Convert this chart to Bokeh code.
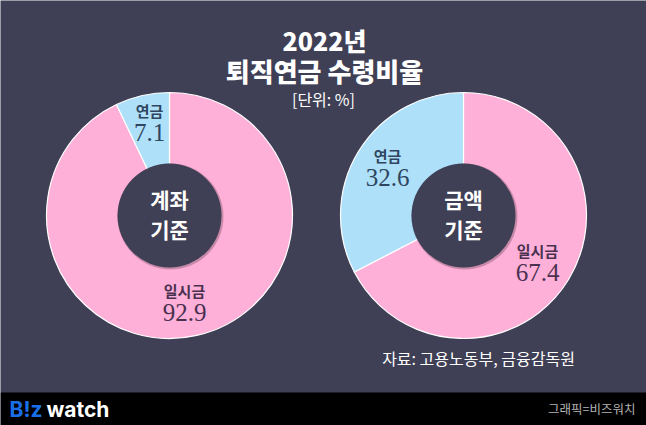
import numpy as np
from bokeh.plotting import figure
from bokeh.core.properties import value
from bokeh.embed import file_html
from bokeh.resources import INLINE

chart_names = ["계좌", "금액"]
chart_suffix = "기준"
lump_values = [92.9, 67.4]
pension_values = [7.1, 32.6]
lump_label = "일시금"
pension_label = "연금"
title_year = "2022년"
title_main = "퇴직연금 수령비율"
unit_text = "[단위: %]"
source_text = "자료: 고용노동부, 금융감독원"
credit_text = "그래픽=비즈워치"

BG = "#3f3f55"
PINK = "#ffb0d8"
BLUE = "#aee0f9"
KR = "Noto Sans CJK KR"
KR_BLACK = "Noto Sans CJK KR Black"
SERIF = "Liberation Serif"

# Data space equals reference pixels: x as is, y measured up from the bottom of the page
p = figure(width=646, height=425, x_range=(0, 646), y_range=(0, 425),
           output_backend="svg", toolbar_location=None, min_border=0,
           background_fill_color=BG, border_fill_color=BG, outline_line_color=None)
p.axis.visible = False
p.grid.visible = False

def Y(v):
    return 425 - v

def txt(x, y, s, size, color, font=KR, style="normal", align="center"):
    p.text([x], [Y(y)], text=[s], text_font=value(font), text_font_size=f"{size}px",
           text_font_style=style, text_color=color, text_align=align,
           text_baseline="middle")

p.quad(left=[0], right=[646], bottom=[0], top=[Y(392)], fill_color="#000000", line_color=None)

centers = [169, 463]
R_OUT, R_HOLE = 123, 52
for cx, name, lump, pen in zip(centers, chart_names, lump_values, pension_values):
    vals = np.array([lump, pen])
    edges = np.pi / 2 - 2 * np.pi * np.concatenate([[0], np.cumsum(vals) / vals.sum()])
    p.wedge(x=[cx, cx], y=[Y(215)] * 2, radius=R_OUT, start_angle=edges[:-1], end_angle=edges[1:],
            direction="clock", fill_color=[PINK, BLUE], line_color="#ffffff", line_width=1.2)
    p.circle(x=[cx + 1], y=[Y(216)], radius=R_HOLE + 1, fill_color="#000000", fill_alpha=0.22, line_color=None)
    p.circle(x=[cx], y=[Y(215)], radius=R_HOLE, fill_color=BG, line_color=None)
    txt(cx, 198, name, 21, "#ffffff", style="bold")
    txt(cx, 228, chart_suffix, 21, "#ffffff", style="bold")

txt(324, 39, title_year, 25, "#ffffff", font=KR_BLACK, style="bold")
txt(324, 70, title_main, 26, "#ffffff", font=KR_BLACK, style="bold")
txt(323, 98, unit_text, 16, "#ffffff")

LBL_B = "#2f4560"
LBL_P = "#4a3050"
txt(149, 110, pension_label, 15, LBL_B, style="bold")
txt(149, 132, f"{pension_values[0]}", 25, LBL_B, font=SERIF)
txt(387, 155, pension_label, 15, LBL_B, style="bold")
txt(387, 177, f"{pension_values[1]}", 25, LBL_B, font=SERIF)
txt(184, 290, lump_label, 15, LBL_P, style="bold")
txt(184, 312, f"{lump_values[0]}", 25, LBL_P, font=SERIF)
txt(537, 250, lump_label, 15, LBL_P, style="bold")
txt(537, 272, f"{lump_values[1]}", 25, LBL_P, font=SERIF)

txt(478, 357, source_text, 16, "#ffffff", align="center")
txt(635, 408, credit_text, 12.5, "#b4b4b4", align="right")
txt(9, 409, "B!z", 21, "#1a6fe8", font="Inter", style="bold", align="left")
txt(46, 409, "watch", 21, "#ffffff", font="Inter", style="bold", align="left")

open("out.html", "w").write(file_html(p, INLINE))
